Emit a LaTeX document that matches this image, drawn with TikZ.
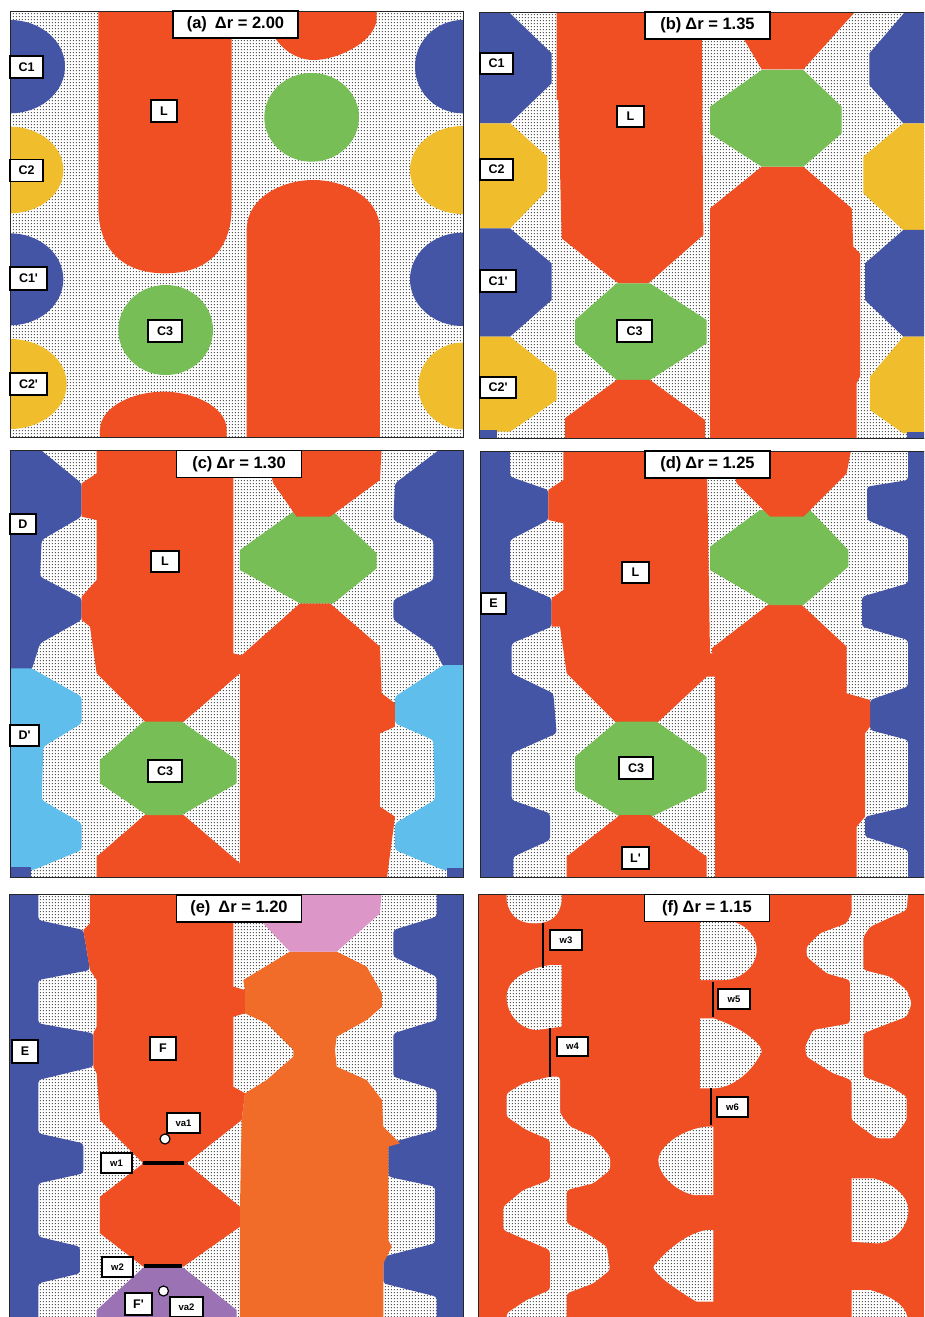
\documentclass[tikz,border=0pt]{standalone}
\usepackage{fontspec}
\setmainfont{Liberation Sans}
\usetikzlibrary{patterns}
\pgfdeclarepatternformonly{bgdots}{\pgfqpoint{0pt}{0pt}}{\pgfqpoint{3.33pt}{3.33pt}}{\pgfqpoint{3.33pt}{3.33pt}}{\pgfpathrectangle{\pgfqpoint{1pt}{1pt}}{\pgfqpoint{1.25pt}{1.25pt}}\pgfusepath{fill}}
\definecolor{cred}{HTML}{F04E23}
\definecolor{cblue}{HTML}{4555A5}
\definecolor{cyel}{HTML}{F0BE2D}
\definecolor{cgreen}{HTML}{76BE55}
\definecolor{clblue}{HTML}{5FBEEB}
\definecolor{corange}{HTML}{F06C28}
\definecolor{cpink}{HTML}{DC96C8}
\definecolor{cpurple}{HTML}{9B73B4}
\definecolor{dotc}{HTML}{555555}
\newcommand{\pr}{\textquotesingle}
\tikzset{
  dotfill/.style={fill=white, postaction={pattern=bgdots, pattern color=dotc}},
  pnl/.style={draw=black!85, line width=1pt},
  lab/.style={draw=black, line width=1.3pt, fill=white, inner sep=0pt,
    font=\bfseries\fontsize{12.5}{12.5}\selectfont},
  slab/.style={lab, font=\bfseries\fontsize{9.5}{9.5}\selectfont},
  ttl/.style={draw=black, line width=1.6pt, fill=white, inner sep=0pt,
    minimum width=125pt, minimum height=27pt,
    font=\bfseries\fontsize{16.5}{16.5}\selectfont},
  wallline/.style={line width=4pt, black},
  wallthin/.style={line width=2.4pt, black},
  vac/.style={circle, draw=black, fill=white, line width=1.2pt, minimum size=10pt, inner sep=0pt},
  zz/.style={rounded corners=3pt},
}
\begin{document}
\begin{tikzpicture}[x=1pt, y=-1pt]
\useasboundingbox (0,0) rectangle (924,1317);
\fill[white] (0,0) rectangle (924,1317);
\clip (0,0) rectangle (924,1317);

% ================= panel (a)
\begin{scope}
\clip (10,11) rectangle (463,437);
\path[dotfill] (10,11) rectangle (463,437);
\begin{scope}[scale=1/3]
\fill[cblue] (30,200) ellipse [x radius=165, y radius=140];
\fill[cyel] (30,510) ellipse [x radius=160, y radius=130];
\fill[cblue] (30,838) ellipse [x radius=160, y radius=138];
\fill[cyel] (30,1152) ellipse [x radius=170, y radius=135];
\fill[cblue] (1388,200) ellipse [x radius=143, y radius=140];
\fill[cyel] (1388,510) ellipse [x radius=158, y radius=132];
\fill[cblue] (1388,838) ellipse [x radius=158, y radius=140];
\fill[cyel] (1388,1158) ellipse [x radius=133, y radius=130];
\fill[cred] (295,20) -- (295,620) .. controls (295,760) and (380,820) .. (495,820) .. controls (610,820) and (695,760) .. (695,620) -- (695,20) -- cycle;
\fill[cred] (300,1320) -- (300,1290) .. controls (300,1220) and (400,1175) .. (490,1175) .. controls (580,1175) and (680,1220) .. (680,1290) -- (680,1320) -- cycle;
\fill[cred] (740,1320) -- (740,690) .. controls (740,590) and (850,540) .. (940,540) .. controls (1030,540) and (1140,590) .. (1140,690) -- (1140,1320) -- cycle;
\fill[cred] (805,20) -- (805,60) .. controls (815,130) and (880,180) .. (940,180) .. controls (1010,180) and (1120,130) .. (1130,60) -- (1130,20) -- cycle;
\fill[cgreen] (935,352) ellipse [x radius=142, y radius=133];
\fill[cgreen] (497,990) ellipse [x radius=142, y radius=135];
\end{scope}
\end{scope}
\draw[pnl] (10,11) rectangle (463,437);

% ================= panel (b)
\begin{scope}
\clip (479,12) rectangle (930,438);
\path[dotfill] (479,12) rectangle (930,438);
\begin{scope}[shift={(460,0)}, scale=1/3]
\fill[cblue] (50,30) -- (140,30) -- (275,160) -- (275,250) -- (150,370) -- (50,370) -- cycle;
\fill[cyel] (50,370) -- (150,370) -- (262,470) -- (262,570) -- (150,685) -- (50,685) -- cycle;
\fill[cblue] (50,685) -- (150,685) -- (275,790) -- (275,900) -- (150,1010) -- (50,1010) -- cycle;
\fill[cyel] (50,1010) -- (150,1010) -- (290,1120) -- (290,1200) -- (150,1295) -- (50,1295) -- cycle;
\fill[cblue] (50,1290) rectangle (110,1320);
\fill[cblue] (1400,30) -- (1340,30) -- (1228,160) -- (1228,255) -- (1330,370) -- (1400,370) -- cycle;
\fill[cyel] (1400,370) -- (1330,370) -- (1210,470) -- (1210,580) -- (1330,690) -- (1400,690) -- cycle;
\fill[cblue] (1400,690) -- (1330,690) -- (1215,790) -- (1215,900) -- (1330,1010) -- (1400,1010) -- cycle;
\fill[cyel] (1400,1010) -- (1330,1010) -- (1230,1130) -- (1230,1230) -- (1330,1300) -- (1400,1300) -- cycle;
\fill[cblue] (1340,1295) rectangle (1400,1320);
\fill[cred] (290,30) -- (725,30) -- (730,705) -- (565,850) -- (475,850) -- (305,715) -- (295,300) -- (290,300) -- cycle;
\fill[cgreen] (470,850) -- (570,850) -- (740,960) -- (740,1030) -- (570,1140) -- (470,1140) -- (345,1030) -- (345,960) -- cycle;
\fill[cred] (470,1140) -- (570,1140) -- (735,1260) -- (735,1320) -- (315,1320) -- (315,1255) -- cycle;
\fill[cred] (905,500) -- (1030,500) -- (1175,625) -- (1180,740) -- (1200,760) -- (1200,1130) -- (1190,1150) -- (1190,1320) -- (750,1320) -- (750,625) -- cycle;
\fill[cgreen] (905,210) -- (1030,210) -- (1145,320) -- (1145,400) -- (1030,500) -- (905,500) -- (750,400) -- (750,320) -- cycle;
\fill[cred] (800,30) -- (1190,30) -- (1030,208) -- (905,208) -- cycle;
\end{scope}
\end{scope}
\draw[pnl] (479,12) rectangle (930,438);

% ================= panel (c)
\begin{scope}
\clip (10,450) rectangle (463,877);
\path[dotfill] (10,450) rectangle (463,877);
\begin{scope}[shift={(0,440)}, scale=1/3]
\fill[cblue, zz] (20,20) -- (110,20) -- (245,130) -- (245,230) -- (125,300) -- (120,410) -- (245,475) -- (245,540) -- (120,610) -- (95,690) -- (20,690) -- cycle;
\fill[clblue, zz] (20,685) -- (95,685) -- (245,770) -- (245,850) -- (130,920) -- (125,1080) -- (245,1150) -- (245,1230) -- (100,1290) -- (20,1290) -- cycle;
\fill[cblue] (20,1280) rectangle (92,1320);
\fill[cblue, zz] (1400,20) -- (1330,20) -- (1185,130) -- (1180,240) -- (1300,300) -- (1300,420) -- (1180,480) -- (1180,540) -- (1300,620) -- (1330,680) -- (1400,680) -- cycle;
\fill[clblue, zz] (1400,675) -- (1330,675) -- (1185,770) -- (1185,850) -- (1300,900) -- (1305,1080) -- (1185,1150) -- (1185,1230) -- (1330,1290) -- (1400,1290) -- cycle;
\fill[cblue] (1340,1285) rectangle (1400,1320);
\fill[cred] (290,20) -- (700,20) -- (700,640) -- (740,650) -- (740,690) -- (720,700) -- (545,850) -- (440,850) -- (290,700) -- (270,560) -- (245,540) -- (245,470) -- (290,420) -- (290,240) -- (245,230) -- (245,130) -- (290,100) -- cycle;
\fill[cred] (440,1120) -- (545,1120) -- (720,1270) -- (720,1320) -- (290,1320) -- (290,1250) -- cycle;
\fill[cred] (900,490) -- (990,490) -- (1140,620) -- (1145,760) -- (1185,790) -- (1185,860) -- (1140,880) -- (1140,1100) -- (1185,1130) -- (1160,1320) -- (720,1320) -- (720,650) -- cycle;
\fill[cgreen] (880,215) -- (1000,215) -- (1130,340) -- (1130,385) -- (1000,490) -- (900,490) -- (720,390) -- (720,330) -- cycle;
\fill[cred] (790,20) -- (1145,20) -- (1140,120) -- (990,230) -- (890,230) -- (820,130) -- cycle;
\fill[cgreen] (430,845) -- (545,845) -- (710,960) -- (710,1030) -- (545,1125) -- (440,1125) -- (300,1030) -- (300,960) -- cycle;
\end{scope}
\end{scope}
\draw[pnl] (10,450) rectangle (463,877);

% ================= panel (d)
\begin{scope}
\clip (480,451) rectangle (930,877);
\path[dotfill] (480,451) rectangle (930,877);
\begin{scope}[shift={(460,440)}, scale=1/3]
\fill[cblue, zz] (50,20) -- (150,20) -- (150,110) -- (265,150) -- (265,240) -- (150,300) -- (150,420) -- (275,475) -- (275,560) -- (155,610) -- (155,700) -- (280,760) -- (290,880) -- (155,940) -- (155,1080) -- (270,1120) -- (270,1200) -- (160,1250) -- (160,1320) -- (50,1320) -- cycle;
\fill[cblue, zz] (1400,20) -- (1344,20) -- (1344,120) -- (1221,140) -- (1221,240) -- (1344,290) -- (1344,430) -- (1206,470) -- (1206,560) -- (1344,600) -- (1344,740) -- (1230,780) -- (1230,870) -- (1344,900) -- (1344,1100) -- (1215,1130) -- (1215,1190) -- (1344,1230) -- (1344,1320) -- (1400,1320) -- cycle;
\fill[cred] (310,20) -- (740,20) -- (750,640) -- (770,640) -- (770,710) -- (740,710) -- (590,850) -- (470,850) -- (320,700) -- (300,560) -- (275,560) -- (275,475) -- (310,450) -- (310,250) -- (265,240) -- (265,150) -- (310,120) -- cycle;
\fill[cgreen] (470,845) -- (590,845) -- (740,950) -- (740,1050) -- (575,1130) -- (480,1130) -- (345,1050) -- (345,950) -- cycle;
\fill[cred] (480,1125) -- (570,1125) -- (740,1250) -- (740,1320) -- (320,1320) -- (320,1250) -- cycle;
\fill[cred] (930,490) -- (1020,490) -- (1160,620) -- (1160,760) -- (1230,780) -- (1230,860) -- (1215,880) -- (1215,1130) -- (1190,1160) -- (1190,1320) -- (765,1320) -- (765,700) -- (755,625) -- cycle;
\fill[cgreen] (900,210) -- (1050,210) -- (1165,330) -- (1165,380) -- (1030,495) -- (930,495) -- (750,390) -- (750,320) -- cycle;
\fill[cred] (800,20) -- (1175,20) -- (1160,100) -- (1030,230) -- (930,230) -- (830,130) -- cycle;
\end{scope}
\end{scope}
\draw[pnl] (480,451) rectangle (930,877);

% ================= panel (e)
\begin{scope}
\clip (9,894) rectangle (463,1330);
\path[dotfill] (9,894) rectangle (463,1330);
\begin{scope}[shift={(0,880)}, scale=1/3]
\fill[cblue, zz] (20,30) -- (115,30) -- (115,120) -- (250,150) -- (270,270) -- (115,300) -- (115,430) -- (280,460) -- (280,560) -- (115,600) -- (115,760) -- (250,790) -- (250,880) -- (115,910) -- (115,1070) -- (240,1100) -- (240,1180) -- (115,1210) -- (115,1330) -- (20,1330) -- cycle;
\fill[cblue, zz] (1400,30) -- (1310,30) -- (1310,110) -- (1180,150) -- (1180,230) -- (1310,290) -- (1310,420) -- (1180,460) -- (1180,590) -- (1310,630) -- (1310,750) -- (1165,790) -- (1165,890) -- (1305,920) -- (1305,1090) -- (1150,1130) -- (1150,1210) -- (1310,1250) -- (1310,1330) -- (1400,1330) -- cycle;
\fill[cred] (270,30) -- (700,30) -- (700,320) -- (735,330) -- (735,400) -- (700,410) -- (700,620) -- (735,640) -- (725,720) -- (560,850) -- (430,850) -- (300,720) -- (290,580) -- (280,560) -- (280,460) -- (290,440) -- (290,300) -- (270,270) -- (250,150) -- (270,130) -- cycle;
\fill[cred] (430,850) -- (560,850) -- (720,980) -- (720,1040) -- (550,1160) -- (430,1160) -- (300,1060) -- (300,950) -- cycle;
\fill[cpurple] (430,1163) -- (550,1163) -- (710,1290) -- (710,1330) -- (290,1330) -- (290,1290) -- cycle;
\fill[corange] (870,215) -- (1010,215) -- (1100,260) -- (1146,340) -- (1146,380) -- (1100,420) -- (1010,470) -- (1005,510) -- (1010,560) -- (1100,600) -- (1146,660) -- (1150,740) -- (1200,790) -- (1165,800) -- (1165,1080) -- (1175,1100) -- (1150,1150) -- (1150,1330) -- (720,1330) -- (720,980) -- (725,720) -- (735,640) -- (800,600) -- (880,530) -- (880,510) -- (800,430) -- (735,400) -- (735,330) -- (730,300) -- cycle;
\fill[cpink] (800,30) -- (1145,30) -- (1140,100) -- (1010,215) -- (870,215) -- (790,130) -- cycle;
\end{scope}
\end{scope}
\draw[pnl] (9,894) rectangle (463,1330);

% ================= panel (f)
\begin{scope}
\clip (478,894) rectangle (930,1330);
\fill[cred] (478,894) rectangle (930,1330);
\begin{scope}[shift={(460,880)}, scale=1/3]
\path[dotfill] (140,30) -- (140,60) .. controls (150,120) and (190,130) .. (225,130) .. controls (270,130) and (300,110) .. (305,60) -- (305,30) -- cycle;
\path[dotfill] (305,255) -- (270,255) .. controls (180,270) and (140,310) .. (140,350) .. controls (140,410) and (190,450) .. (230,450) -- (305,440) -- cycle;
\path[dotfill, zz] (270,590) -- (300,590) -- (300,700) -- (330,740) -- (400,770) -- (450,830) -- (450,870) -- (400,910) -- (320,930) -- (320,1030) -- (380,1060) -- (440,1100) -- (450,1170) -- (400,1210) -- (320,1240) -- (320,1330) -- (140,1330) -- (140,1300) -- (200,1260) -- (270,1230) -- (270,1110) -- (200,1080) -- (130,1050) -- (130,980) -- (190,930) -- (270,900) -- (270,780) -- (200,750) -- (140,710) -- (140,640) -- (190,610) -- cycle;
\path[dotfill] (720,125) -- (820,125) .. controls (870,140) and (890,180) .. (890,210) .. controls (890,260) and (840,300) .. (790,300) -- (720,300) -- cycle;
\path[dotfill] (720,415) -- (760,415) .. controls (840,440) and (905,490) .. (905,515) .. controls (880,570) and (820,625) .. (760,625) -- (720,625) -- cycle;
\path[dotfill] (760,740) -- (760,945) -- (700,945) .. controls (640,930) and (595,880) .. (595,840) .. controls (600,790) and (680,745) .. (740,740) -- cycle;
\path[dotfill] (760,1050) -- (760,1265) -- (710,1265) .. controls (650,1230) and (580,1180) .. (580,1160) .. controls (620,1110) and (680,1060) .. (740,1050) -- cycle;
\path[dotfill, zz] (1175,30) -- (1345,30) -- (1340,90) -- (1230,140) -- (1210,170) -- (1210,270) -- (1290,290) -- (1340,330) -- (1355,370) -- (1340,410) -- (1260,440) -- (1210,460) -- (1210,590) -- (1290,620) -- (1340,650) -- (1340,720) -- (1300,775) -- (1250,775) -- (1175,720) -- (1175,600) -- (1120,580) -- (1040,530) -- (1035,500) -- (1060,450) -- (1170,430) -- (1170,300) -- (1100,280) -- (1040,230) -- (1040,200) -- (1080,160) -- (1160,130) -- (1175,100) -- cycle;
\path[dotfill] (1175,895) -- (1240,895) .. controls (1300,910) and (1345,950) .. (1345,990) .. controls (1345,1040) and (1300,1090) .. (1250,1090) -- (1175,1085) -- cycle;
\path[dotfill] (1175,1230) -- (1230,1230) .. controls (1300,1250) and (1345,1280) .. (1345,1330) -- (1175,1330) -- cycle;
\end{scope}
\end{scope}
\draw[pnl] (478,894) rectangle (930,1330);

% ================= walls and vacancies
\coordinate (w1a) at (143,1163); \coordinate (w1b) at (184,1163);
\coordinate (w2a) at (144,1266); \coordinate (w2b) at (182,1266);
\draw[wallline] (w1a) -- (w1b);
\draw[wallline] (w2a) -- (w2b);
\coordinate (w3a) at (543,923); \coordinate (w3b) at (543,968);
\coordinate (w4a) at (550,1028); \coordinate (w4b) at (550,1077);
\coordinate (w5a) at (713,982); \coordinate (w5b) at (713,1017);
\coordinate (w6a) at (711,1088); \coordinate (w6b) at (711,1125);
\draw[wallthin] (w3a) -- (w3b);
\draw[wallthin] (w4a) -- (w4b);
\draw[wallthin] (w5a) -- (w5b);
\draw[wallthin] (w6a) -- (w6b);
\node[vac] (va1c) at (165,1139) {};
\node[vac] (va2c) at (163.5,1291) {};

% ================= titles
\node[ttl] (ta) at (235.5,24.5) {(a)\hspace{8pt}Δr = 2.00};
\node[ttl] (tb) at (707.5,25.5) {(b)\hspace{4pt}Δr = 1.35};
\node[ttl] (tc) at (239,464) {(c)\hspace{4pt}Δr = 1.30};
\node[ttl] (td) at (707.5,464.5) {(d)\hspace{4pt}Δr = 1.25};
\node[ttl] (te) at (239,908.5) {(e)\hspace{8pt}Δr = 1.20};
\node[ttl] (tf) at (707,908) {(f)\hspace{4pt}Δr = 1.15};

% ================= labels (a)
\node[lab, minimum width=33pt, minimum height=22pt] (aC1) at (26.5,67) {C1};
\node[lab, minimum width=33pt, minimum height=22pt] (aC2) at (26.5,170.5) {C2};
\node[lab, minimum width=37pt, minimum height=23pt] (aC1p) at (28.5,278.5) {C1\pr};
\node[lab, minimum width=37pt, minimum height=22pt] (aC2p) at (28.5,384) {C2\pr};
\node[lab, minimum width=26pt, minimum height=22pt] (aL) at (164,111) {L};
\node[lab, minimum width=34pt, minimum height=22pt] (aC3) at (165,331) {C3};
% (b)
\node[lab, minimum width=33pt, minimum height=21pt] (bC1) at (496.5,63.5) {C1};
\node[lab, minimum width=33pt, minimum height=21pt] (bC2) at (496.5,169.5) {C2};
\node[lab, minimum width=36pt, minimum height=22pt] (bC1p) at (498,281) {C1\pr};
\node[lab, minimum width=36pt, minimum height=21pt] (bC2p) at (498,387.5) {C2\pr};
\node[lab, minimum width=27pt, minimum height=21pt] (bL) at (630.5,116.5) {L};
\node[lab, minimum width=35pt, minimum height=22pt] (bC3) at (634.5,331) {C3};
% (c)
\node[lab, minimum width=26pt, minimum height=20pt] (cD) at (23,524) {D};
\node[lab, minimum width=29pt, minimum height=21pt] (cDp) at (24.5,735.5) {D\pr};
\node[lab, minimum width=28pt, minimum height=21pt] (cL) at (165,561.5) {L};
\node[lab, minimum width=34pt, minimum height=22pt] (cC3) at (165,771) {C3};
% (d)
\node[lab, minimum width=25pt, minimum height=21pt] (dE) at (493.5,603.5) {E};
\node[lab, minimum width=27pt, minimum height=21pt] (dL) at (635.5,572.5) {L};
\node[lab, minimum width=34pt, minimum height=22pt] (dC3) at (636,768) {C3};
\node[lab, minimum width=27pt, minimum height=22pt] (dLp) at (635.5,858) {L\pr};
% (e)
\node[lab, minimum width=26pt, minimum height=23pt] (eE) at (25,1051.5) {E};
\node[lab, minimum width=26pt, minimum height=23pt] (eF) at (163,1048.5) {F};
\node[lab, minimum width=27pt, minimum height=22pt] (eFp) at (138.5,1304) {F\pr};
\node[slab, minimum width=33pt, minimum height=20pt] (eva1) at (183.5,1123) {va1};
\node[slab, minimum width=33pt, minimum height=20pt] (eva2) at (186.5,1307) {va2};
\node[slab, minimum width=31pt, minimum height=20pt] (ew1) at (116.5,1163) {w1};
\node[slab, minimum width=31pt, minimum height=20pt] (ew2) at (117.5,1267) {w2};
% (f)
\node[slab, minimum width=32pt, minimum height=20pt] (fw3) at (566,940) {w3};
\node[slab, minimum width=31pt, minimum height=19pt] (fw4) at (572.5,1046.5) {w4};
\node[slab, minimum width=32pt, minimum height=20pt] (fw5) at (734,999) {w5};
\node[slab, minimum width=31pt, minimum height=20pt] (fw6) at (732.5,1107) {w6};
\end{tikzpicture}
\end{document}
